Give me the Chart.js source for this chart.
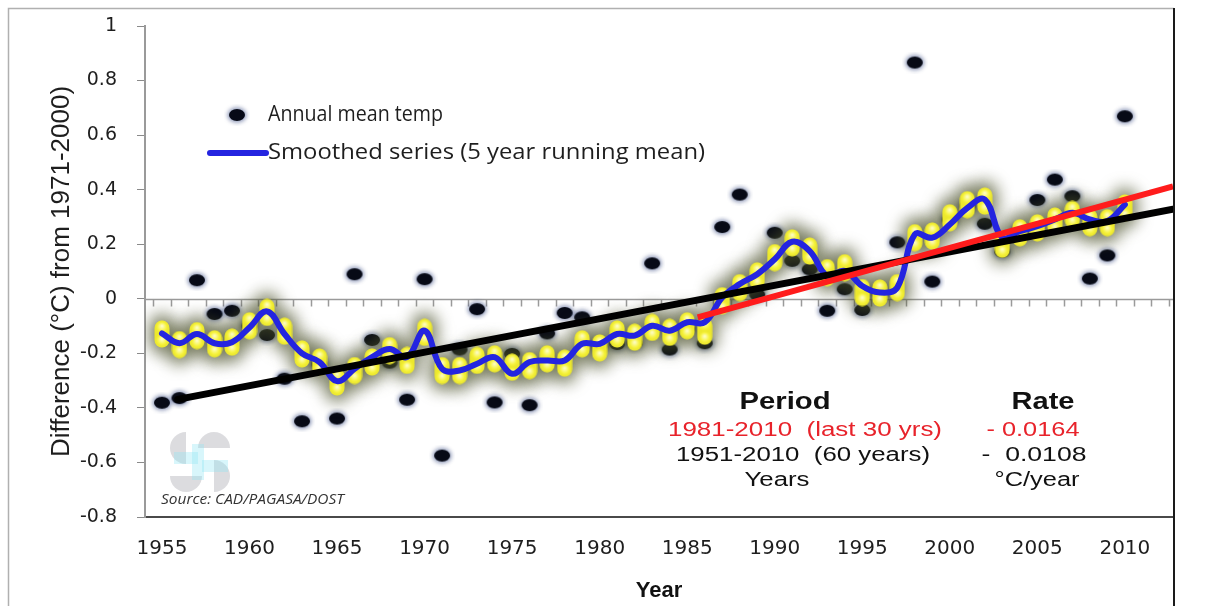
<!DOCTYPE html>
<html>
<head>
<meta charset="utf-8">
<script src="https://cdn.jsdelivr.net/npm/chart.js@4.4.1/dist/chart.umd.min.js"></script>
<style>
  html, body { margin: 0; padding: 0; background: #fff; }
</style>
</head>
<body>
<canvas id="tempChart" width="1206" height="606"></canvas>
<script>
const years = [1955, 1956, 1957, 1958, 1959, 1960, 1961, 1962, 1963, 1964,
  1965, 1966, 1967, 1968, 1969, 1970, 1971, 1972, 1973, 1974,
  1975, 1976, 1977, 1978, 1979, 1980, 1981, 1982, 1983, 1984,
  1985, 1986, 1987, 1988, 1989, 1990, 1991, 1992, 1993, 1994,
  1995, 1996, 1997, 1998, 1999, 2000, 2001, 2002, 2003, 2004,
  2005, 2006, 2007, 2008, 2009, 2010];

// annual mean temperature anomaly (black dots)
const annualMean = [-0.381, -0.364, 0.068, -0.056, -0.044, -0.10, -0.133, -0.293, -0.449, -0.24,
  -0.439, 0.09, -0.151, -0.234, -0.37, 0.072, -0.575, -0.186, -0.038, -0.38,
  -0.202, -0.39, -0.127, -0.052, -0.068, -0.17, -0.166, -0.163, 0.130, -0.186,
  -0.11, -0.163, 0.263, 0.382, 0.015, 0.242, 0.139, 0.108, -0.044, 0.035,
  -0.041, 0.02, 0.207, 0.866, 0.063, 0.29, 0.34, 0.275, 0.173, 0.25,
  0.362, 0.437, 0.376, 0.074, 0.159, 0.669];

// 5 year running mean (yellow markers)
const runningMean = [-0.129, -0.168, -0.135, -0.165, -0.159, -0.099, -0.05, -0.119, -0.202, -0.232,
  -0.305, -0.263, -0.232, -0.19, -0.226, -0.123, -0.263, -0.263, -0.226, -0.22,
  -0.251, -0.245, -0.22, -0.236, -0.165, -0.18, -0.129, -0.141, -0.105, -0.123,
  -0.099, -0.119, -0.007, 0.041, 0.084, 0.151, 0.205, 0.175, 0.096, 0.114,
  0.023, 0.021, 0.041, 0.224, 0.23, 0.297, 0.345, 0.358, 0.2, 0.242,
  0.26, 0.285, 0.309, 0.279, 0.279, 0.333];

// smoothed series (blue line)
const smoothed = [-0.127, -0.163, -0.129, -0.163, -0.159, -0.105, -0.046, -0.129, -0.2, -0.232,
  -0.302, -0.257, -0.214, -0.184, -0.214, -0.117, -0.257, -0.263, -0.238, -0.214,
  -0.275, -0.232, -0.226, -0.226, -0.165, -0.165, -0.129, -0.135, -0.099, -0.117,
  -0.086, -0.086, 0.005, 0.054, 0.09, 0.145, 0.209, 0.175, 0.084, 0.102,
  0.047, 0.023, 0.041, 0.236, 0.224, 0.272, 0.333, 0.364, 0.224, 0.248,
  0.266, 0.291, 0.315, 0.291, 0.285, 0.345];

// linear trends
const trendAllYears = [1955.9, 2012.75];
const trendAllValues = [-0.369, 0.328];
const trendRecentYears = [1985.6, 2012.75];
const trendRecentValues = [-0.068, 0.412];

const xTicks = [1955, 1960, 1965, 1970, 1975, 1980, 1985, 1990, 1995, 2000, 2005, 2010];
const yTicks = [-0.8, -0.6, -0.4, -0.2, 0, 0.2, 0.4, 0.6, 0.8, 1];
const minorTicks = [1954.5, 1955.5, 1956.5, 1957.5, 1958.5, 1959.5, 1960.5, 1961.5, 1962.5, 1963.5,
  1964.5, 1965.5, 1966.5, 1967.5, 1968.5, 1969.5, 1970.5, 1971.5, 1972.5, 1973.5,
  1974.5, 1975.5, 1976.5, 1977.5, 1978.5, 1979.5, 1980.5, 1981.5, 1982.5, 1983.5,
  1984.5, 1985.5, 1986.5, 1987.5, 1988.5, 1989.5, 1990.5, 1991.5, 1992.5, 1993.5,
  1994.5, 1995.5, 1996.5, 1997.5, 1998.5, 1999.5, 2000.5, 2001.5, 2002.5, 2003.5,
  2004.5, 2005.5, 2006.5, 2007.5, 2008.5, 2009.5, 2010.5, 2011.5, 2012.5];

const toPoints = (xs, ys) => xs.map((x, i) => ({ x: x, y: ys[i] }));

// marker images
function makeDot() {
  const c = document.createElement("canvas");
  c.width = 26; c.height = 22;
  const g = c.getContext("2d");
  g.filter = "blur(2px)";
  g.fillStyle = "rgba(40,60,120,0.55)";
  g.beginPath(); g.ellipse(13, 11, 9.5, 7.5, 0, 0, Math.PI * 2); g.fill();
  g.filter = "none";
  g.fillStyle = "#070a16";
  g.beginPath(); g.ellipse(13, 11, 8, 6, 0, 0, Math.PI * 2); g.fill();
  return c;
}

function makeBlob() {
  const c = document.createElement("canvas");
  c.width = 16; c.height = 28;
  const g = c.getContext("2d");
  g.fillStyle = "#ece82c";
  g.beginPath(); g.roundRect(0.5, 0.5, 15, 27, 7.5); g.fill();
  [7.5, 20.5].forEach((cy) => {
    const rg = g.createRadialGradient(8, cy - 1.5, 0.5, 8, cy, 7.5);
    rg.addColorStop(0, "#fdfcc0");
    rg.addColorStop(0.55, "#f7f340");
    rg.addColorStop(1, "rgba(236,232,44,0)");
    g.fillStyle = rg;
    g.beginPath(); g.arc(8, cy, 7.5, 0, Math.PI * 2); g.fill();
  });
  return c;
}

function makeGlow() {
  const c = document.createElement("canvas");
  c.width = 64; c.height = 76;
  const g = c.getContext("2d");
  g.filter = "blur(8px)";
  g.fillStyle = "rgba(74,80,42,0.7)";
  g.beginPath(); g.roundRect(19, 18, 26, 40, 13); g.fill();
  return c;
}

const dotImg = makeDot();
const blobImg = makeBlob();
const glowImg = makeGlow();

function fitText(ctx, text, x, y, width, font, color, align) {
  ctx.save();
  ctx.font = font;
  ctx.fillStyle = color;
  ctx.textBaseline = "middle";
  ctx.textAlign = align;
  const w = ctx.measureText(text).width;
  ctx.translate(x, y);
  ctx.scale(width / w, 1);
  ctx.fillText(text, 0, 0);
  ctx.restore();
}

const decorations = {
  id: "decorations",
  beforeDraw(chart) {
    const ctx = chart.ctx;
    ctx.save();
    ctx.fillStyle = "#fff";
    ctx.fillRect(0, 0, chart.width, chart.height);
    ctx.strokeStyle = "#b0b0b0";
    ctx.lineWidth = 1.5;
    ctx.beginPath();
    ctx.moveTo(8.5, 620); ctx.lineTo(8.5, 8.5); ctx.lineTo(1174, 8.5);
    ctx.stroke();
    ctx.restore();
  },
  beforeDatasetsDraw(chart) {
    const ctx = chart.ctx;
    const { left, right } = chart.chartArea;
    const xs = chart.scales.x;
    const y0 = Math.round(chart.scales.y.getPixelForValue(0)) + 0.5;
    ctx.save();
    // zero line with yearly minor ticks
    ctx.strokeStyle = "#9a9a9a";
    ctx.lineWidth = 1.5;
    ctx.beginPath();
    ctx.moveTo(left, y0); ctx.lineTo(right, y0);
    minorTicks.forEach((t) => {
      const px = Math.round(xs.getPixelForValue(t)) + 0.5;
      if (px > left + 2 && px < right) { ctx.moveTo(px, y0); ctx.lineTo(px, y0 + 7); }
    });
    ctx.stroke();

    // faded logo
    ctx.globalAlpha = 0.3;
    ctx.fillStyle = "#8c8c96";
    ctx.beginPath(); ctx.arc(186, 448, 16, Math.PI * 0.5, Math.PI * 1.5); ctx.fill();
    ctx.beginPath(); ctx.arc(214, 448, 16, Math.PI * 1.0, Math.PI * 2.0); ctx.fill();
    ctx.beginPath(); ctx.arc(186, 476, 16, 0, Math.PI); ctx.fill();
    ctx.beginPath(); ctx.arc(214, 476, 16, Math.PI * 1.5, Math.PI * 2.5); ctx.fill();
    ctx.fillStyle = "#8fe6f4";
    ctx.globalAlpha = 0.35;
    ctx.fillRect(174, 452, 24, 12);
    ctx.fillRect(202, 460, 26, 12);
    ctx.fillRect(192, 444, 12, 36);
    ctx.restore();
  },
  afterDraw(chart) {
    const ctx = chart.ctx;
    const { right } = chart.chartArea;
    ctx.save();
    ctx.strokeStyle = "#1a1a1a";
    ctx.lineWidth = 2;
    ctx.beginPath(); ctx.moveTo(right + 1, 8); ctx.lineTo(right + 1, 606); ctx.stroke();

    // legend
    ctx.drawImage(dotImg, 237 - dotImg.width / 2, 115 - dotImg.height / 2);
    ctx.strokeStyle = "#2424e0";
    ctx.lineWidth = 6;
    ctx.lineCap = "round";
    ctx.beginPath(); ctx.moveTo(210, 153); ctx.lineTo(266, 153); ctx.stroke();
    fitText(ctx, "Annual mean temp", 268, 115, 175, "21px 'Open Sans'", "#1e1e1e", "left");
    fitText(ctx, "Smoothed series (5 year running mean)", 268, 153, 437, "21px 'Open Sans'", "#1e1e1e", "left");

    // rate table
    const bold = "bold 24px 'Liberation Sans', Arial";
    const reg = "20px 'Liberation Sans', Arial";
    fitText(ctx, "Period", 785, 402, 91, bold, "#111", "center");
    fitText(ctx, "Rate", 1043, 402, 63, bold, "#111", "center");
    fitText(ctx, "1981-2010  (last 30 yrs)", 805, 430, 274, reg, "#e8232b", "center");
    fitText(ctx, "- 0.0164", 1033, 430, 93, reg, "#e8232b", "center");
    fitText(ctx, "1951-2010  (60 years)", 803, 455, 254, reg, "#111", "center");
    fitText(ctx, "-  0.0108", 1034, 455, 105, reg, "#111", "center");
    fitText(ctx, "Years", 777, 480, 65, reg, "#111", "center");
    fitText(ctx, "°C/year", 1037, 480, 85, reg, "#111", "center");

    fitText(ctx, "Source: CAD/PAGASA/DOST", 161, 500, 183, "italic 14px 'Open Sans'", "#333", "left");
    ctx.restore();
  },
};

new Chart(document.getElementById("tempChart"), {
  type: "scatter",
  data: {
    datasets: [
      {
        label: "1981-2010 trend",
        data: toPoints(trendRecentYears, trendRecentValues),
        showLine: true,
        borderColor: "#ff1c1c",
        borderWidth: 6,
        pointRadius: 0,
      },
      {
        label: "1951-2010 trend",
        data: toPoints(trendAllYears, trendAllValues),
        showLine: true,
        borderColor: "#000",
        borderWidth: 7,
        pointRadius: 0,
        borderCapStyle: "round",
      },
      {
        label: "Smoothed series (5 year running mean)",
        data: toPoints(years, smoothed),
        showLine: true,
        borderColor: "#2424e0",
        borderWidth: 6,
        tension: 0.4,
        pointRadius: 0,
        borderCapStyle: "round",
        borderJoinStyle: "round",
      },
      {
        label: "Running mean",
        data: toPoints(years, runningMean),
        pointStyle: blobImg,
        pointRadius: 6,
      },
      {
        label: "Running mean glow",
        data: toPoints(years, runningMean),
        pointStyle: glowImg,
        pointRadius: 6,
      },
      {
        label: "Annual mean temp",
        data: toPoints(years, annualMean),
        pointStyle: dotImg,
        pointRadius: 6,
      },
    ],
  },
  options: {
    responsive: false,
    animation: false,
    events: [],
    devicePixelRatio: 1,
    layout: { padding: { left: 0, top: 26, right: 33, bottom: 0 } },
    plugins: {
      legend: { display: false },
      tooltip: { enabled: false },
    },
    scales: {
      x: {
        type: "linear",
        min: 1954.03,
        max: 2012.75,
        afterBuildTicks: (s) => { s.ticks = xTicks.map((v) => ({ value: v })); },
        afterFit: (s) => { s.height = 89; s.paddingLeft = 0; s.paddingRight = 0; },
        grid: { display: false, drawTicks: false },
        border: { color: "#4a4a4a", width: 2 },
        ticks: {
          padding: 20,
          autoSkip: false,
          maxRotation: 0,
          color: "#1e1e1e",
          font: { family: "DejaVu Sans", size: 20 },
          callback: (v) => String(v),
        },
        title: {
          display: true,
          text: "Year",
          color: "#111",
          font: { family: "'Liberation Sans', Arial", size: 22, weight: "bold" },
          padding: { top: 0, bottom: 2 },
        },
      },
      y: {
        min: -0.8,
        max: 1,
        afterBuildTicks: (s) => { s.ticks = yTicks.map((v) => ({ value: v })); },
        afterFit: (s) => { s.width = 145; s.paddingTop = 0; s.paddingBottom = 0; },
        grid: { drawOnChartArea: false, drawTicks: true, tickLength: 8, color: "#8a8a8a" },
        border: { color: "#9a9a9a", width: 2 },
        ticks: {
          padding: 20,
          color: "#1e1e1e",
          font: { family: "DejaVu Sans", size: 19 },
          callback: (v) => String(v),
        },
        title: {
          display: true,
          text: "Difference (°C) from 1971-2000)",
          color: "#1e1e1e",
          font: { family: "'Liberation Sans Narrow', 'Liberation Sans'", size: 26 },
          padding: { top: 46, bottom: 0 },
        },
      },
    },
  },
  plugins: [decorations],
});
</script>
</body>
</html>
